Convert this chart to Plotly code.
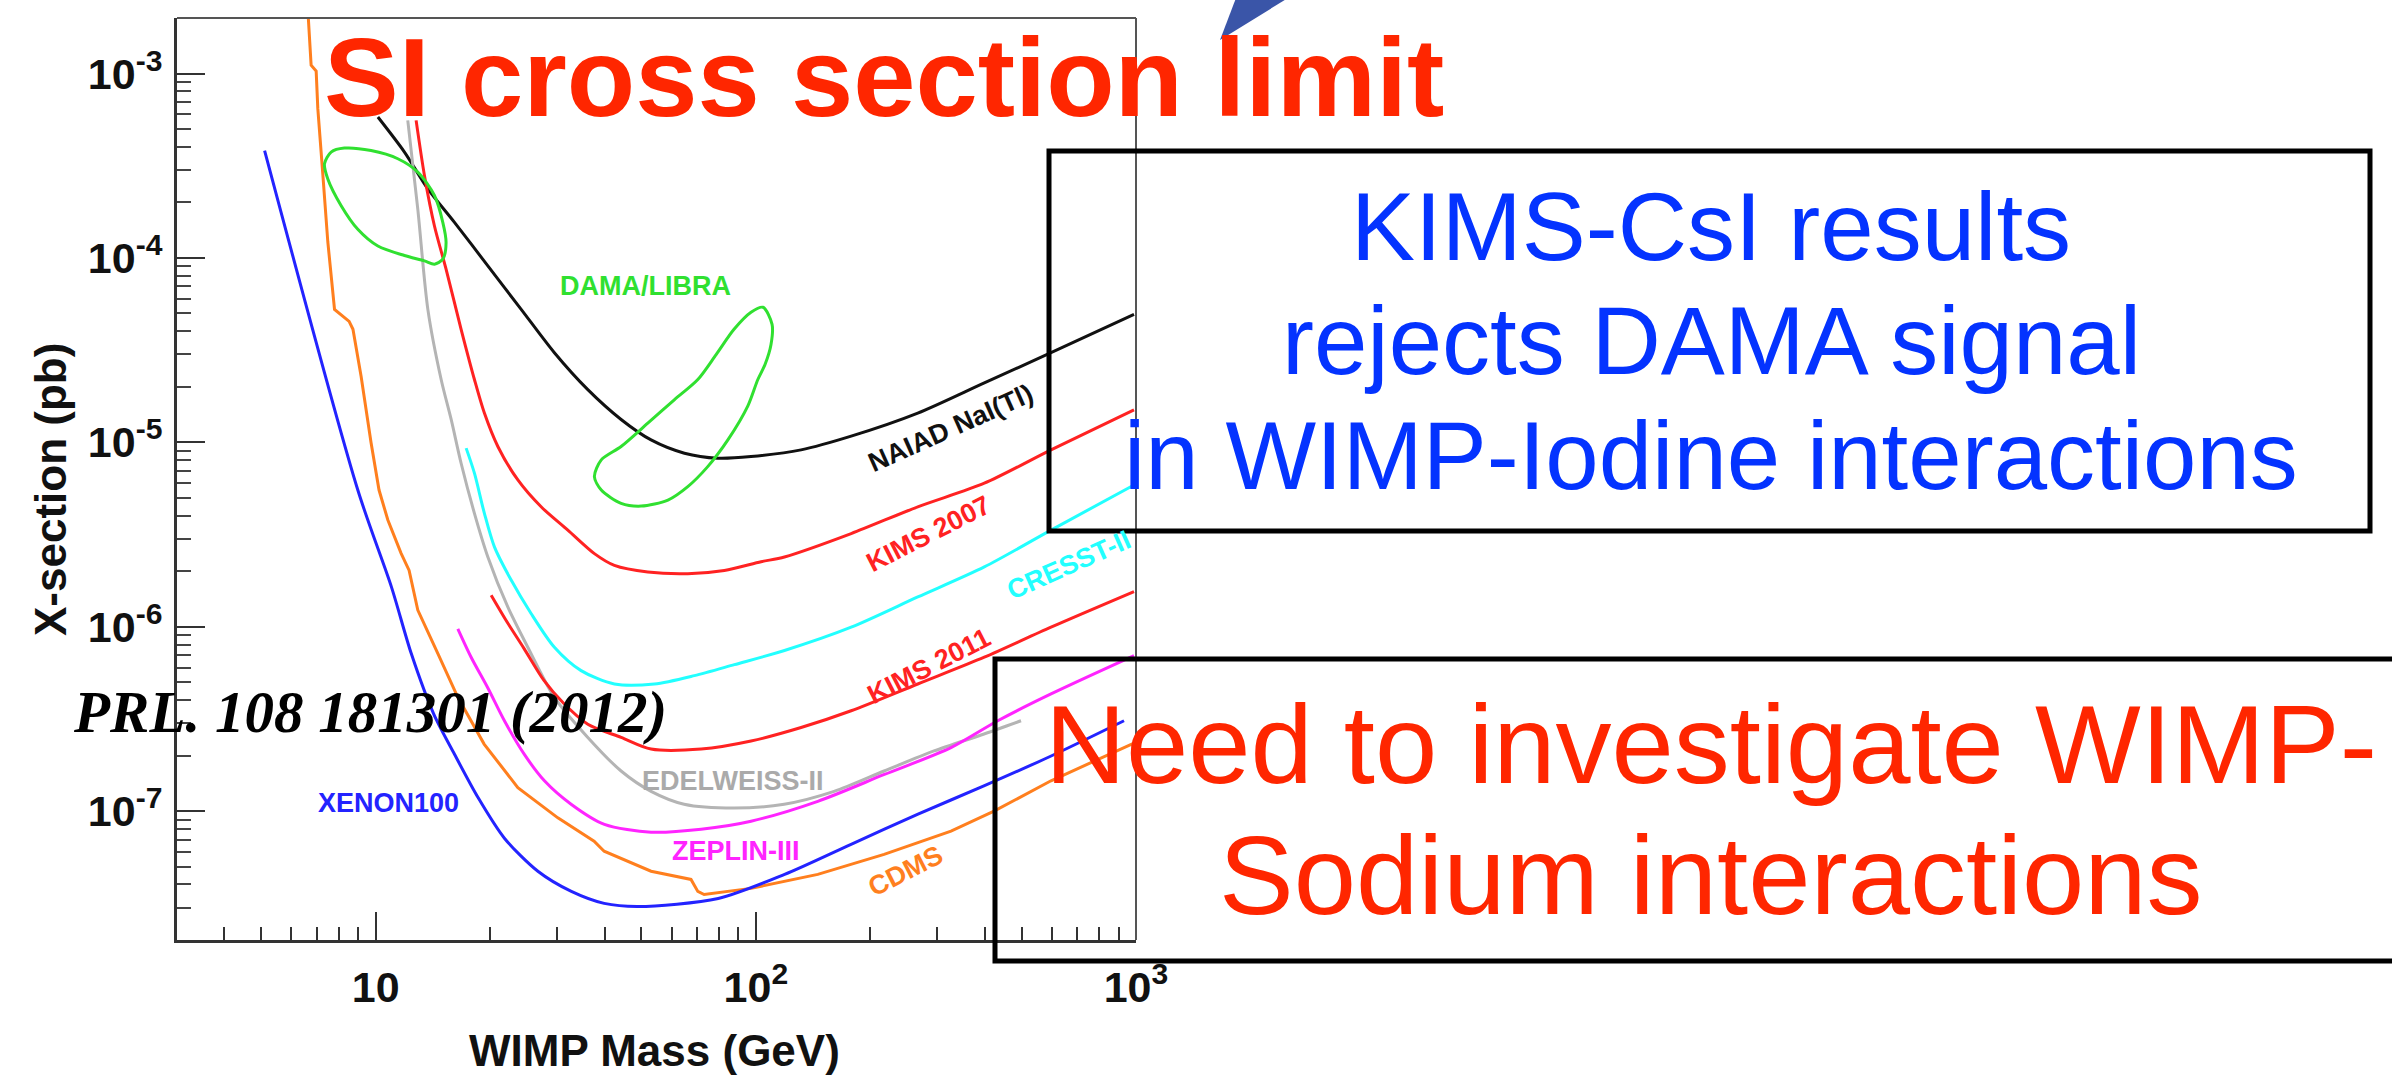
import numpy as np
import plotly.graph_objects as go

# ---------------- data (WIMP mass in GeV, SI cross section in pb) ----------------
xenon100_mass = [5.1, 8.97, 11.0, 12.4, 14.2, 16.1, 18.6, 21.8, 26.7, 32.7, 39.9, 49.0, 79.6, 119, 178, 267, 398, 598, 930]
xenon100_xsec = [3.82e-4, 5.51e-6, 1.64e-6, 7.15e-7, 3.37e-7, 2.04e-7, 1.18e-7, 7.13e-8, 4.72e-8, 3.67e-8, 3.16e-8, 3.04e-8, 3.36e-8, 4.54e-8, 6.61e-8, 9.63e-8, 1.37e-7, 1.99e-7, 3.09e-7]

cdms_mass = [6.64, 6.76, 6.97, 7.04, 7.26, 7.48, 7.79, 8.19, 8.51, 8.71, 9.15, 9.72, 10.2, 10.76, 11.66, 12.24, 12.9, 14.57, 16.44, 19.28, 23.65, 30.13, 37.53, 39.88, 53.0, 67.5, 70.35, 73.09, 97.1, 145.5, 217.4, 326.1, 423.2, 597.6, 988]
cdms_xsec = [2.07e-3, 1.11e-3, 1.03e-3, 6.45e-4, 2.80e-4, 1.22e-4, 5.26e-5, 4.84e-5, 4.53e-5, 4.10e-5, 2.28e-5, 9.94e-6, 5.51e-6, 3.79e-6, 2.50e-6, 2.02e-6, 1.23e-6, 7.15e-7, 4.14e-7, 2.31e-7, 1.34e-7, 9.19e-8, 6.87e-8, 6.06e-8, 4.72e-8, 4.26e-8, 3.67e-8, 3.53e-8, 3.81e-8, 4.54e-8, 5.83e-8, 7.78e-8, 1.0e-7, 1.46e-7, 2.34e-7]

zeplin_mass = [16.44, 17.82, 19.72, 21.8, 24.6, 27.78, 32.65, 39.95, 53.0, 71.78, 97.1, 145.5, 217.8, 326.1, 432.8, 597.6, 988]
zeplin_xsec = [9.74e-7, 6.83e-7, 4.65e-7, 3.09e-7, 2.03e-7, 1.46e-7, 1.09e-7, 8.47e-8, 7.69e-8, 7.98e-8, 8.82e-8, 1.13e-7, 1.58e-7, 2.21e-7, 3.09e-7, 4.32e-7, 6.97e-7]

edelweiss_mass = [12.14, 12.9, 13.71, 14.86, 15.79, 16.77, 18.18, 19.72, 22.25, 25.12, 29.51, 36.13, 44.2, 53.0, 64.75, 87.6, 118.7, 160.6, 217.4, 294.2, 398.3, 498.4]
edelweiss_xsec = [5.57e-4, 1.84e-4, 5.26e-5, 2.19e-5, 1.33e-5, 7.70e-6, 4.12e-6, 2.39e-6, 1.28e-6, 7.74e-7, 4.14e-7, 2.51e-7, 1.65e-7, 1.28e-7, 1.09e-7, 1.04e-7, 1.09e-7, 1.28e-7, 1.65e-7, 2.12e-7, 2.62e-7, 3.09e-7]

kims2011_mass = [20.12, 22.03, 24.56, 27.73, 31.11, 36.13, 44.2, 53.0, 71.8, 97.1, 131.5, 178.1, 266.6, 399, 597.6, 988]
kims2011_xsec = [1.48e-6, 1.08e-6, 7.61e-7, 5.10e-7, 3.87e-7, 2.96e-7, 2.51e-7, 2.17e-7, 2.17e-7, 2.40e-7, 2.84e-7, 3.50e-7, 4.89e-7, 6.83e-7, 9.94e-7, 1.55e-6]

cresst_mass = [17.29, 18.18, 19.31, 20.52, 22.71, 25.62, 29.51, 34.69, 42.44, 54.08, 68.9, 87.8, 118.9, 178.1, 266.6, 399, 597.6, 988]
cresst_xsec = [9.30e-6, 6.80e-6, 4.12e-6, 2.71e-6, 1.79e-6, 1.18e-6, 7.74e-7, 5.78e-7, 4.89e-7, 4.89e-7, 5.43e-7, 6.23e-7, 7.43e-7, 9.94e-7, 1.45e-6, 2.11e-6, 3.34e-6, 5.87e-6]

kims2007_mass = [12.77, 13.43, 14.27, 15.31, 16.77, 18.18, 19.31, 20.95, 23.65, 27.23, 32.01, 37.6, 42.44, 51.96, 66.22, 82.62, 103.2, 118.9, 178.1, 266.6, 399, 597.6, 988]
kims2007_xsec = [5.57e-4, 2.80e-4, 1.49e-4, 8.69e-5, 4.10e-5, 2.19e-5, 1.44e-5, 9.49e-6, 6.25e-6, 4.47e-6, 3.34e-6, 2.49e-6, 2.15e-6, 1.98e-6, 1.94e-6, 2.02e-6, 2.25e-6, 2.39e-6, 3.20e-6, 4.47e-6, 6.00e-6, 9.10e-6, 1.50e-5]

naiad_mass = [10.13, 11.9, 13.71, 16.11, 19.72, 24.13, 29.51, 36.13, 44.2, 53.0, 64.86, 79.4, 97.1, 131.5, 178.1, 266.6, 399, 597.6, 988]
naiad_xsec = [5.81e-4, 3.75e-4, 2.37e-4, 1.56e-4, 9.05e-5, 5.26e-5, 3.06e-5, 1.93e-5, 1.33e-5, 1.03e-5, 8.73e-6, 8.20e-6, 8.37e-6, 9.10e-6, 1.08e-5, 1.44e-5, 2.10e-5, 3.06e-5, 4.94e-5]

dama_low_mass = [7.33, 7.63, 8.27, 9.72, 11.43, 12.9, 14.27, 15.01, 15.31, 15.01, 14.27, 13.43, 11.9, 10.13, 8.97, 8.11, 7.48, 7.33]
dama_low_xsec = [3.24e-4, 3.75e-4, 3.94e-4, 3.82e-4, 3.45e-4, 2.92e-4, 2.18e-4, 1.56e-4, 1.21e-4, 9.84e-5, 9.25e-5, 9.64e-5, 1.03e-4, 1.16e-4, 1.43e-4, 1.92e-4, 2.68e-4, 3.24e-4]

dama_high_mass = [104.4, 110.3, 109.6, 105.7, 101.2, 95.2, 84.4, 74.7, 66.2, 58.7, 49.9, 44.2, 39.2, 37.6, 39.2, 44.2, 51.96, 61.0, 70.35, 78.6, 87.6, 97.1, 104.4]
dama_high_xsec = [5.40e-5, 4.36e-5, 3.39e-5, 2.64e-5, 2.19e-5, 1.57e-5, 1.03e-5, 7.38e-6, 5.75e-6, 4.86e-6, 4.51e-6, 4.67e-6, 5.51e-6, 6.51e-6, 8.03e-6, 9.49e-6, 1.27e-5, 1.70e-5, 2.19e-5, 2.99e-5, 4.10e-5, 5.07e-5, 5.40e-5]

# curve labels: text, position (mass, xsec)
label_text = ["NAIAD NaI(Tl)", "KIMS 2007", "CRESST-II", "KIMS 2011", "EDELWEISS-II", "ZEPLIN-III", "CDMS", "XENON100", "DAMA/LIBRA"]
label_mass = [326, 284, 666, 285.5, 87.1, 88.7, 248, 10.8, 51.1]
label_xsec = [1.2e-5, 3.18e-6, 2.15e-6, 6.15e-7, 1.46e-7, 6.06e-8, 4.72e-8, 1.11e-7, 7.02e-5]

x_tick_vals = [10, 100, 1000]
x_tick_text = ["10", "10<sup>2</sup>", "10<sup>3</sup>"]
y_tick_vals = [1e-7, 1e-6, 1e-5, 1e-4, 1e-3]
y_tick_text = ["10<sup>-7</sup>", "10<sup>-6</sup>", "10<sup>-5</sup>", "10<sup>-4</sup>", "10<sup>-3</sup>"]
x_range = [3, 1000]
y_range = [2e-8, 2e-3]

# ---------------- styling ----------------
C_BLUE = "#2323ff"
C_ORANGE = "#ff7f1e"
C_MAGENTA = "#ff24ff"
C_GRAY = "#b4b4b4"
C_RED = "#ff2222"
C_CYAN = "#22ffff"
C_BLACK = "#111111"
C_GREEN = "#30e030"

label_color = [C_BLACK, C_RED, C_CYAN, C_RED, "#aaaaaa", C_MAGENTA, C_ORANGE, C_BLUE, C_GREEN]
label_angle = [-24, -27, -24, -27, 0, 0, -27, 0, 0]

W, H = 2392, 1076
L, R, T, B = 177, 1136, 18, 940   # plot frame in pixels


def px(x):
    return (x - L) / (R - L)


def py(y):
    return (B - y) / (B - T)


SANS = "Liberation Sans, Arial, Helvetica, sans-serif"
SERIF = "Liberation Serif, Times New Roman, serif"

fig = go.Figure()

curves = [
    (naiad_mass, naiad_xsec, C_BLACK, "spline"),
    (kims2007_mass, kims2007_xsec, C_RED, "spline"),
    (edelweiss_mass, edelweiss_xsec, C_GRAY, "spline"),
    (cresst_mass, cresst_xsec, C_CYAN, "spline"),
    (kims2011_mass, kims2011_xsec, C_RED, "spline"),
    (zeplin_mass, zeplin_xsec, C_MAGENTA, "spline"),
    (cdms_mass, cdms_xsec, C_ORANGE, "linear"),
    (xenon100_mass, xenon100_xsec, C_BLUE, "spline"),
    (dama_low_mass, dama_low_xsec, C_GREEN, "spline"),
    (dama_high_mass, dama_high_xsec, C_GREEN, "spline"),
]
for m, s, c, shp in curves:
    fig.add_trace(go.Scatter(
        x=m, y=s, mode="lines",
        line=dict(color=c, width=3, shape=shp, smoothing=0.8),
        showlegend=False, hoverinfo="skip",
    ))

x_minor = [k * 10 ** e for e in range(0, 3) for k in range(2, 10) if x_range[0] <= k * 10 ** e <= x_range[1]]
y_minor = [k * 10.0 ** e for e in range(-8, -2) for k in range(2, 10) if y_range[0] <= k * 10.0 ** e <= y_range[1]]

axis_common = dict(
    type="log", showgrid=False, zeroline=False, showline=True,
    linecolor="#333333", linewidth=3, mirror=False,
    ticks="inside", tickwidth=2, tickcolor="#333333",
    tickmode="array",
    tickfont=dict(family=SANS, size=43, color="#111111", weight="bold"),
    automargin=False,
)

fig.update_xaxes(
    **axis_common,
    range=[np.log10(x_range[0]), np.log10(x_range[1])],
    tickvals=x_tick_vals, ticktext=x_tick_text, ticklen=28,
    ticklabelstandoff=7,
    minor=dict(ticks="inside", ticklen=13, tickwidth=2, tickcolor="#333333",
               tickmode="array", tickvals=x_minor, showgrid=False),
)
fig.update_yaxes(
    **axis_common,
    range=[np.log10(y_range[0]), np.log10(y_range[1])],
    tickvals=y_tick_vals, ticktext=y_tick_text, ticklen=28,
    ticklabelstandoff=3,
    minor=dict(ticks="inside", ticklen=14, tickwidth=2, tickcolor="#444444",
               tickmode="array", tickvals=y_minor, showgrid=False),
)

annotations = []
# curve labels
for t, m, s, c, a in zip(label_text, label_mass, label_xsec, label_color, label_angle):
    annotations.append(dict(
        x=np.log10(m), y=np.log10(s), xref="x", yref="y", text=t, showarrow=False,
        textangle=a, xanchor="center", yanchor="middle",
        font=dict(family=SANS, size=27, color=c, weight="bold"),
    ))

# axis titles
annotations.append(dict(x=px(654), y=py(1050), xref="paper", yref="paper",
                        text="WIMP Mass (GeV)", showarrow=False, xanchor="center", yanchor="middle",
                        font=dict(family=SANS, size=44, color="#111111", weight="bold")))
annotations.append(dict(x=px(50), y=py(490), xref="paper", yref="paper",
                        text="X-section (pb)", showarrow=False, textangle=-90,
                        xanchor="center", yanchor="middle",
                        font=dict(family=SANS, size=44, color="#111111", weight="bold")))

# reference
annotations.append(dict(x=px(370), y=py(712), xref="paper", yref="paper",
                        text="PRL. 108 181301 (2012)", showarrow=False, xanchor="center", yanchor="middle",
                        font=dict(family=SERIF, size=59, color="#000000", weight="bold", style="italic")))

# slide title
annotations.append(dict(x=px(884), y=py(78), xref="paper", yref="paper",
                        text="SI cross section limit", showarrow=False, xanchor="center", yanchor="middle",
                        font=dict(family=SANS, size=112, color="#ff2600", weight="bold")))

# boxed messages
blue_lines = ["KIMS-CsI results", "rejects DAMA signal", "in WIMP-Iodine interactions"]
blue_y = [226, 340, 455]
for t, yy in zip(blue_lines, blue_y):
    annotations.append(dict(x=px(1711), y=py(yy), xref="paper", yref="paper", text=t,
                            showarrow=False, xanchor="center", yanchor="middle",
                            font=dict(family=SANS, size=96, color="#0433ff")))
red_lines = ["Need to investigate WIMP-", "Sodium interactions"]
red_y = [744, 875]
for t, yy in zip(red_lines, red_y):
    annotations.append(dict(x=px(1711), y=py(yy), xref="paper", yref="paper", text=t,
                            showarrow=False, xanchor="center", yanchor="middle",
                            font=dict(family=SANS, size=112, color="#ff2600")))

shapes = [
    # top and right frame lines (thinner)
    dict(type="line", xref="paper", yref="paper", x0=0, x1=1, y0=1, y1=1,
         line=dict(color="#555555", width=2)),
    dict(type="line", xref="paper", yref="paper", x0=1, x1=1, y0=0, y1=1,
         line=dict(color="#555555", width=2)),
    # message boxes
    dict(type="rect", xref="paper", yref="paper", x0=px(1049), x1=px(2370), y0=py(531), y1=py(151),
         line=dict(color="#000000", width=5), fillcolor="rgba(0,0,0,0)"),
    dict(type="rect", xref="paper", yref="paper", x0=px(995), x1=px(2420), y0=py(961), y1=py(659),
         line=dict(color="#000000", width=5), fillcolor="rgba(0,0,0,0)"),
    # decorative blue wedge at top
    dict(type="path", xref="paper", yref="paper",
         path=f"M {px(1220)} {py(40)} L {px(1236)} {py(-2)} L {px(1288)} {py(-2)} Z",
         line=dict(width=0), fillcolor="#3a55a8"),
]

fig.update_layout(
    width=W, height=H,
    margin=dict(l=L, r=W - R, t=T, b=H - B, pad=0),
    paper_bgcolor="white", plot_bgcolor="white",
    showlegend=False,
    font=dict(family=SANS),
    annotations=annotations,
    shapes=shapes,
)

fig.write_html("out.html", config={"displayModeBar": False},
               post_script="document.body.style.margin='0px';")
